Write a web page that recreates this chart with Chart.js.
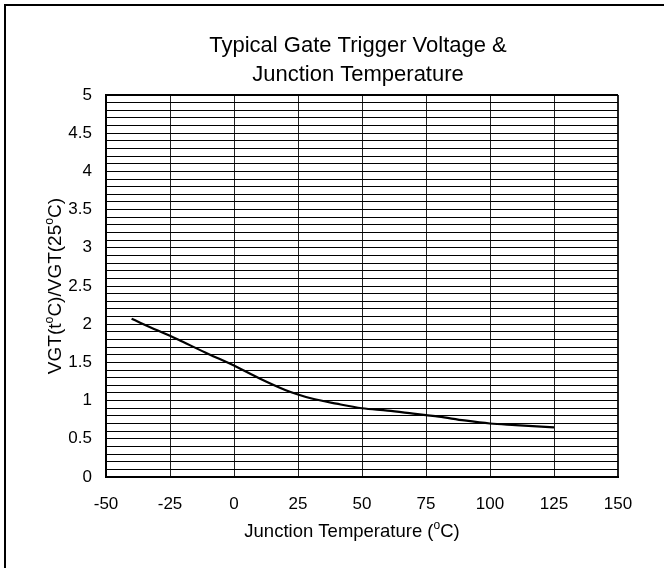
<!DOCTYPE html>
<html>
<head>
<meta charset="utf-8">
<script src="https://cdn.jsdelivr.net/npm/chart.js@4"></script>
<style>
  html, body { margin: 0; padding: 0; background: #fff; }
  #wrap { width: 664px; height: 568px; }
</style>
</head>
<body>
<div id="wrap"><canvas id="chartVgt"></canvas></div>
<script>
// Junction temperature (C) vs VGT(t)/VGT(25C)
const temps = [-40, -30, -25, -20, -10, 0, 10, 20, 25, 30, 40, 50, 60, 70, 75, 80, 90, 100, 110, 120, 125];
const ratio = [2.07, 1.92, 1.85, 1.77, 1.61, 1.46, 1.29, 1.14, 1.08, 1.03, 0.96, 0.90, 0.87, 0.83, 0.81, 0.79, 0.74, 0.70, 0.68, 0.66, 0.65];
const titleLines = ['Typical Gate Trigger Voltage &', 'Junction Temperature'];
// axis titles as runs: [text, superscript?]
const xTitle = [['Junction Temperature (', false], ['o', true], ['C)', false]];
const yTitle = [['VGT(t', false], ['o', true], ['C)/VGT(25', false], ['o', true], ['C)', false]];

const FONT = "'Liberation Sans', Arial, sans-serif";

// measures/draws a run list starting at x (baseline y), superscript 'o' raised and smaller
function runsWidth(c, runs, size) {
  let w = 0;
  for (const [t, sup] of runs) {
    c.font = `${sup ? size * 0.65 : size}px ${FONT}`;
    w += c.measureText(t).width;
  }
  return w;
}
function drawRuns(c, runs, x, y, size) {
  c.textAlign = 'left';
  c.textBaseline = 'alphabetic';
  for (const [t, sup] of runs) {
    c.font = `${sup ? size * 0.65 : size}px ${FONT}`;
    c.fillText(t, x, sup ? y - size * 0.38 : y);
    x += c.measureText(t).width;
  }
}

// outer frame (only left/top edges show in the original crop) + titles
const decorPlugin = {
  id: 'decor',
  beforeDraw(chart) {
    const c = chart.ctx;
    c.save();
    c.strokeStyle = '#000';
    c.lineWidth = 2;
    c.beginPath();
    c.moveTo(5, 568);
    c.lineTo(5, 5);
    c.lineTo(664, 5);
    c.stroke();
    c.restore();
  },
  afterDraw(chart) {
    const c = chart.ctx;
    c.save();
    c.fillStyle = '#000';
    c.font = `22px ${FONT}`;
    c.textAlign = 'center';
    c.textBaseline = 'alphabetic';
    c.fillText(titleLines[0], 358, 52);
    c.fillText(titleLines[1], 358, 81);

    const xs = 18.5;
    const xw = runsWidth(c, xTitle, xs);
    drawRuns(c, xTitle, 352 - xw / 2, 536.5, xs);

    const ys = 19;
    const yw = runsWidth(c, yTitle, ys);
    c.translate(60.5, 286);
    c.rotate(-Math.PI / 2);
    drawRuns(c, yTitle, -yw / 2, 0, ys);
    c.restore();
  },
};

new Chart(document.getElementById('chartVgt'), {
  type: 'line',
  data: {
    datasets: [{
      data: temps.map((t, i) => ({ x: t, y: ratio[i] })),
      borderColor: '#000',
      borderWidth: 2.2,
      pointRadius: 0,
      cubicInterpolationMode: 'monotone',
      fill: false,
    }],
  },
  options: {
    responsive: true,
    maintainAspectRatio: false,
    animation: false,
    layout: { padding: { top: 95, left: 0, right: 46, bottom: 0 } },
    plugins: {
      legend: { display: false },
      tooltip: { enabled: false },
      title: { display: false },
    },
    scales: {
      x: {
        type: 'linear',
        min: -50,
        max: 150,
        ticks: { stepSize: 25, color: '#000', padding: 17, font: { family: FONT, size: 17 } },
        grid: {
          color: '#222',
          drawTicks: false,
          lineWidth: (ctx) => (ctx.tick && ctx.tick.value === 150 ? 2 : 1),
        },
        border: { color: '#000', width: 2 },
        afterFit(scale) { scale.height = 91; },
      },
      y: {
        min: 0,
        max: 5,
        ticks: {
          stepSize: 0.1,
          autoSkip: false,
          color: '#000',
          padding: 14,
          font: { family: FONT, size: 17 },
          callback: (v) => {
            const r = Math.round(v * 10);
            return r % 5 === 0 ? String(r / 10) : '';
          },
        },
        grid: {
          color: '#000',
          drawTicks: false,
          lineWidth: (ctx) => (ctx.tick && Math.round(ctx.tick.value * 10) === 50 ? 2 : 1),
        },
        border: { color: '#000', width: 2 },
        afterFit(scale) { scale.width = 106; },
      },
    },
  },
  plugins: [decorPlugin],
});
</script>
</body>
</html>
